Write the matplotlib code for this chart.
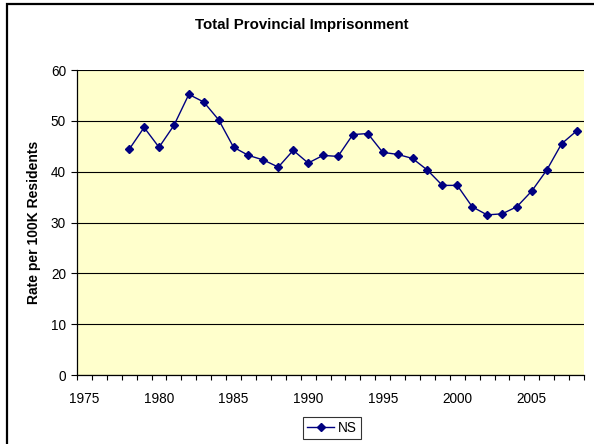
import numpy as np
import matplotlib.pyplot as plt
from matplotlib.patches import Rectangle
from matplotlib.ticker import FixedLocator

plt.rcParams['font.family'] = ['Liberation Sans', 'DejaVu Sans']

# NS provincial imprisonment rate, 1978-2008
years = list(range(1978, 2009))
rate = [44.4, 48.7, 44.8, 49.1, 55.2, 53.7, 50.2, 44.8, 43.2, 42.3, 40.9,
        44.2, 41.7, 43.2, 43.0, 47.3, 47.5, 43.8, 43.4, 42.6, 40.3, 37.3,
        37.3, 33.1, 31.5, 31.7, 33.1, 36.2, 40.3, 45.5, 48.0]
year_labels = [1975, 1980, 1985, 1990, 1995, 2000, 2005]
series_name = 'NS'

W, H = 594, 444
fig = plt.figure(figsize=(W / 100, H / 100), dpi=100)

# chart border (runs off the right and bottom edge like the original)
fig.patches.append(Rectangle((7 / W, -0.05), 1.1, 1 - 4 / H + 0.05,
                             transform=fig.transFigure, fill=False,
                             edgecolor='black', linewidth=1.6, clip_on=False))

ax = fig.add_axes([77 / W, 1 - 375 / H, (584 - 77) / W, (375 - 70) / H])
ax.set_facecolor('#FFFFCC')

ax.plot(years, rate, color='#000080', linewidth=1.0, marker='D',
        markersize=4.2, label=series_name)

ax.set_xlim(1974.5, 2008.5)
ax.set_ylim(0, 60)
ax.set_yticks(np.arange(0, 61, 10))
ax.yaxis.grid(True, color='black', linewidth=0.8)
ax.set_axisbelow(True)

ax.set_xticks(year_labels)
ax.xaxis.set_minor_locator(FixedLocator(np.arange(1974.5, 2009, 1)))
ax.tick_params(axis='x', which='major', length=0, pad=12, labelsize=9.8)
ax.tick_params(axis='x', which='minor', length=3.5, width=0.8, direction='out')
ax.tick_params(axis='y', length=4, width=0.8, direction='out', labelsize=9.8, pad=4)

for s in ['top', 'right']:
    ax.spines[s].set_visible(False)
for s in ['left', 'bottom']:
    ax.spines[s].set_linewidth(0.9)

ax.set_ylabel('Rate per 100K Residents', fontsize=10, fontweight='bold', labelpad=7)
fig.text(302 / W, 1 - 25 / H, 'Total Provincial Imprisonment', ha='center',
         va='center', fontsize=10.8, fontweight='bold')

leg = fig.legend(loc='center', bbox_to_anchor=(332 / W, 1 - 428 / H),
                 fontsize=9.8, frameon=True, fancybox=False, handlelength=2.0,
                 borderpad=0.3, handletextpad=0.3, borderaxespad=0)
leg.get_frame().set_edgecolor('black')
leg.get_frame().set_linewidth(0.8)

fig.savefig('out.png', dpi=100)
